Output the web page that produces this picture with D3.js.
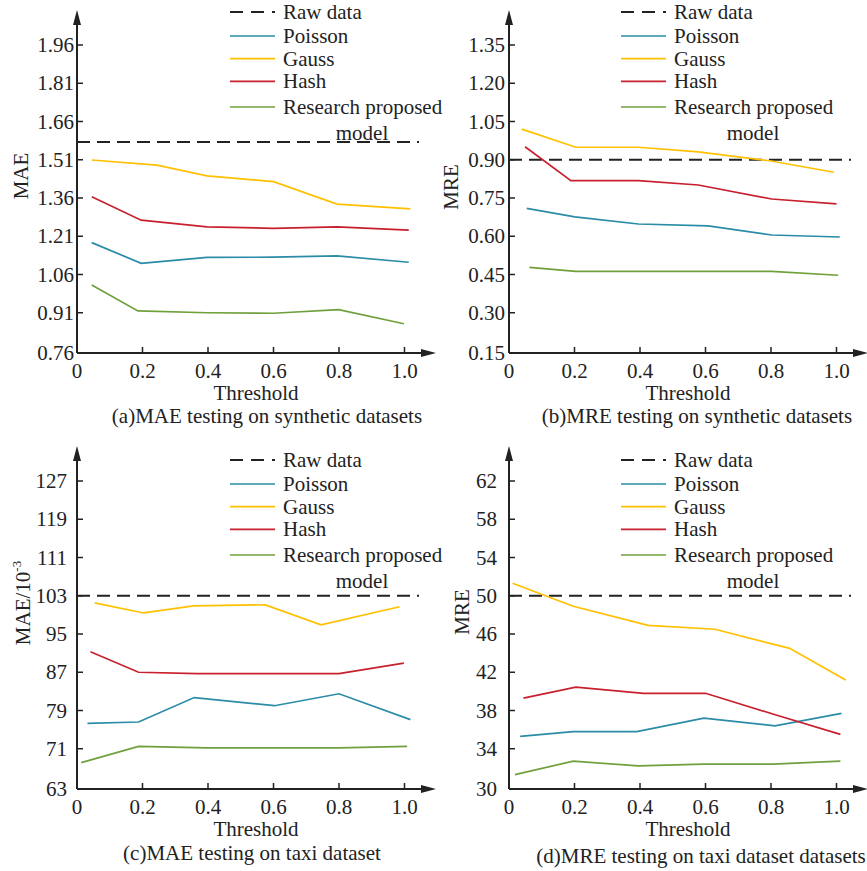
<!DOCTYPE html>
<html>
<head>
<meta charset="utf-8">
<script src="https://cdn.jsdelivr.net/npm/d3@7"></script>
<style>
  body { margin: 0; background: #fff; }
  text { font-family: "Liberation Serif", "Times New Roman", serif; fill: #222; }
</style>
</head>
<body>
<div class="chart"></div>
<script>
// shared x axis
const thresholdTicks = [0, 0.2, 0.4, 0.6, 0.8, 1.0];
const thresholdLabels = ['0', '0.2', '0.4', '0.6', '0.8', '1.0'];
const seriesNames = ['Poisson', 'Gauss', 'Hash', 'Research proposed'];

// (a) MAE, synthetic
const aTicks = [0.76, 0.91, 1.06, 1.21, 1.36, 1.51, 1.66, 1.81, 1.96];
const aRaw = 1.58;
const aPoisson = [[0.045, 1.185], [0.196, 1.104], [0.397, 1.127], [0.60, 1.128], [0.794, 1.133], [1.013, 1.108]];
const aGauss = [[0.045, 1.509], [0.244, 1.489], [0.397, 1.447], [0.60, 1.424], [0.794, 1.336], [1.018, 1.317]];
const aHash = [[0.045, 1.365], [0.196, 1.273], [0.397, 1.247], [0.60, 1.241], [0.794, 1.247], [1.013, 1.234]];
const aResearch = [[0.045, 1.019], [0.186, 0.917], [0.397, 0.910], [0.60, 0.908], [0.799, 0.922], [0.998, 0.867]];

// (b) MRE, synthetic
const bTicks = [0.15, 0.30, 0.45, 0.60, 0.75, 0.90, 1.05, 1.20, 1.35];
const bRaw = 0.90;
const bPoisson = [[0.054, 0.709], [0.201, 0.676], [0.395, 0.648], [0.608, 0.641], [0.802, 0.605], [1.01, 0.597]];
const bGauss = [[0.039, 1.020], [0.204, 0.949], [0.395, 0.949], [0.578, 0.931], [0.796, 0.896], [0.992, 0.851]];
const bHash = [[0.049, 0.951], [0.189, 0.818], [0.395, 0.818], [0.578, 0.801], [0.802, 0.746], [1.0, 0.727]];
const bResearch = [[0.062, 0.478], [0.204, 0.462], [0.4, 0.462], [0.6, 0.462], [0.802, 0.462], [1.005, 0.447]];

// (c) MAE, taxi
const cTicks = [63, 71, 79, 87, 95, 103, 111, 119, 127];
const cRaw = 103;
const cPoisson = [[0.032, 76.3], [0.188, 76.6], [0.358, 81.7], [0.603, 80.0], [0.80, 82.5], [1.018, 77.1]];
const cGauss = [[0.054, 101.5], [0.203, 99.4], [0.356, 100.9], [0.575, 101.1], [0.745, 96.9], [0.985, 100.7]];
const cHash = [[0.041, 91.3], [0.188, 87.0], [0.367, 86.7], [0.6, 86.7], [0.80, 86.7], [0.998, 88.9]];
const cResearch = [[0.013, 68.1], [0.188, 71.5], [0.397, 71.2], [0.6, 71.2], [0.80, 71.2], [1.008, 71.5]];

// (d) MRE, taxi
const dTicks = [30, 34, 38, 42, 46, 50, 54, 58, 62];
const dRaw = 50;
const dPoisson = [[0.034, 35.3], [0.196, 35.8], [0.39, 35.8], [0.595, 37.2], [0.812, 36.4], [1.015, 37.7]];
const dGauss = [[0.011, 51.3], [0.196, 48.9], [0.425, 46.9], [0.629, 46.5], [0.857, 44.5], [1.028, 41.2]];
const dHash = [[0.044, 39.3], [0.204, 40.45], [0.411, 39.8], [0.6, 39.8], [0.818, 37.5], [1.012, 35.5]];
const dResearch = [[0.018, 31.3], [0.196, 32.7], [0.395, 32.2], [0.595, 32.4], [0.806, 32.4], [1.012, 32.7]];

const colors = ['#2a8ca6', '#ffc000', '#c8202e', '#70a03c'];

const panels = [
  { ox: 77, oy: 353, ticks: aTicks, raw: aRaw, series: [aPoisson, aGauss, aHash, aResearch],
    ylabel: 'MAE', ylx: 28, yly: 176, labelGap: 3, legX: 153, legY: 12, modelX: 285,
    caption: '(a)MAE testing on synthetic datasets', capX: 190, capY: 70 },
  { ox: 509, oy: 353, ticks: bTicks, raw: bRaw, series: [bPoisson, bGauss, bHash, bResearch],
    ylabel: 'MRE', ylx: 458, yly: 187, labelGap: 4, legX: 112, legY: 12, modelX: 244,
    caption: '(b)MRE testing on synthetic datasets', capX: 188, capY: 70 },
  { ox: 77, oy: 789, ticks: cTicks, raw: cRaw, series: [cPoisson, cGauss, cHash, cResearch],
    ylabel: 'MAE/10', sup: '-3', ylx: 30, yly: 603, labelGap: 10, legX: 153, legY: 460, modelX: 285,
    caption: '(c)MAE testing on taxi dataset', capX: 175, capY: 71 },
  { ox: 509, oy: 789, ticks: dTicks, raw: dRaw, series: [dPoisson, dGauss, dHash, dResearch],
    ylabel: 'MRE', ylx: 469, yly: 612, labelGap: 12, legX: 112, legY: 460, modelX: 244,
    caption: '(d)MRE testing on taxi dataset datasets', capX: 192, capY: 74 }
];

// function to create SVG element
function createSvg() {
  return d3.select('.chart')
           .append('svg')
           .attr('width', 867)
           .attr('height', 871)
           .attr('font-family', '"Liberation Serif", "Times New Roman", serif');
}

// axes with arrows, ticks and labels
function drawAxes(g, p, x, y) {
  g.append('line').attr('x1', p.ox).attr('y1', p.oy).attr('x2', p.ox).attr('y2', p.oy - 332)
    .attr('stroke', '#222').attr('stroke-width', 2);
  g.append('path').attr('d', 'M' + p.ox + ',' + (p.oy - 343) + 'L' + (p.ox - 4) + ',' + (p.oy - 328) +
    'L' + (p.ox + 4) + ',' + (p.oy - 328) + 'Z').attr('fill', '#222');
  g.append('line').attr('x1', p.ox).attr('y1', p.oy).attr('x2', p.ox + 350).attr('y2', p.oy)
    .attr('stroke', '#222').attr('stroke-width', 2);
  g.append('path').attr('d', 'M' + (p.ox + 359) + ',' + p.oy + 'L' + (p.ox + 344) + ',' + (p.oy - 4) +
    'L' + (p.ox + 344) + ',' + (p.oy + 4) + 'Z').attr('fill', '#222');

  // x ticks point up into the plot
  g.selectAll('.xtick').data(thresholdTicks.slice(1)).enter().append('line')
    .attr('x1', d => x(d)).attr('x2', d => x(d))
    .attr('y1', p.oy).attr('y2', p.oy - 6)
    .attr('stroke', '#222').attr('stroke-width', 1.5);
  g.selectAll('.xlabel').data(thresholdTicks).enter().append('text')
    .attr('x', d => x(d)).attr('y', p.oy + 25)
    .attr('text-anchor', 'middle').attr('font-size', 21)
    .text((d, i) => thresholdLabels[i]);

  // y ticks point right into the plot
  g.selectAll('.ytick').data(p.ticks.slice(1)).enter().append('line')
    .attr('x1', p.ox).attr('x2', p.ox + 6)
    .attr('y1', d => y(d)).attr('y2', d => y(d))
    .attr('stroke', '#222').attr('stroke-width', 1.5);
  g.selectAll('.ylabel').data(p.ticks).enter().append('text')
    .attr('x', p.ox - p.labelGap).attr('y', (d, i) => (i === 0 ? p.oy : y(d)) + 7)
    .attr('text-anchor', 'end').attr('font-size', 21)
    .text(d => d >= 10 ? d : d.toFixed(2));

  g.append('text').attr('x', p.ox + 179).attr('y', p.oy + 47)
    .attr('text-anchor', 'middle').attr('font-size', 21).text('Threshold');
  g.append('text').attr('x', p.ox + p.capX).attr('y', p.oy + p.capY)
    .attr('text-anchor', 'middle').attr('font-size', 21).text(p.caption);

  const yl = g.append('text')
    .attr('transform', 'translate(' + p.ylx + ',' + p.yly + ') rotate(-90)')
    .attr('text-anchor', 'middle').attr('font-size', 21).text(p.ylabel);
  if (p.sup) {
    yl.append('tspan').attr('dy', -9).attr('font-size', 13).text(p.sup);
  }
}

// dashed raw line, series lines and legend
function drawLines(g, p, x, y) {
  g.append('line').attr('x1', p.ox).attr('x2', p.ox + 342)
    .attr('y1', y(p.raw)).attr('y2', y(p.raw))
    .attr('stroke', '#222').attr('stroke-width', 2).attr('stroke-dasharray', '13,7');

  const line = d3.line().x(d => x(d[0])).y(d => y(d[1]));
  g.selectAll('.series').data(p.series).enter().append('path')
    .attr('d', line).attr('fill', 'none')
    .attr('stroke', (d, i) => colors[i]).attr('stroke-width', 1.7);

  const rows = [0, 24, 46.7, 69.3, 95];
  const lx = p.ox + p.legX;
  g.append('line').attr('x1', lx).attr('x2', lx + 45).attr('y1', p.legY).attr('y2', p.legY)
    .attr('stroke', '#222').attr('stroke-width', 2).attr('stroke-dasharray', '13,8');
  g.selectAll('.legline').data(seriesNames).enter().append('line')
    .attr('x1', lx).attr('x2', lx + 45)
    .attr('y1', (d, i) => p.legY + rows[i + 1]).attr('y2', (d, i) => p.legY + rows[i + 1])
    .attr('stroke', (d, i) => colors[i]).attr('stroke-width', 1.7);
  g.selectAll('.legtext').data(['Raw data'].concat(seriesNames)).enter().append('text')
    .attr('x', lx + 53).attr('y', (d, i) => p.legY + rows[i] + 7)
    .attr('font-size', 21).text(d => d);
  g.append('text').attr('x', p.ox + p.modelX).attr('y', p.legY + 128)
    .attr('text-anchor', 'middle').attr('font-size', 21).text('model');
}

const svg = createSvg();
panels.forEach(function(p) {
  const g = svg.append('g');
  const x = d3.scaleLinear().domain([0, 1]).range([p.ox, p.ox + 327.5]);
  const y = d3.scaleLinear().domain([p.ticks[0], p.ticks[p.ticks.length - 1]]).range([p.oy - 2, p.oy - 308]);
  drawAxes(g, p, x, y);
  drawLines(g, p, x, y);
});
</script>
</body>
</html>
